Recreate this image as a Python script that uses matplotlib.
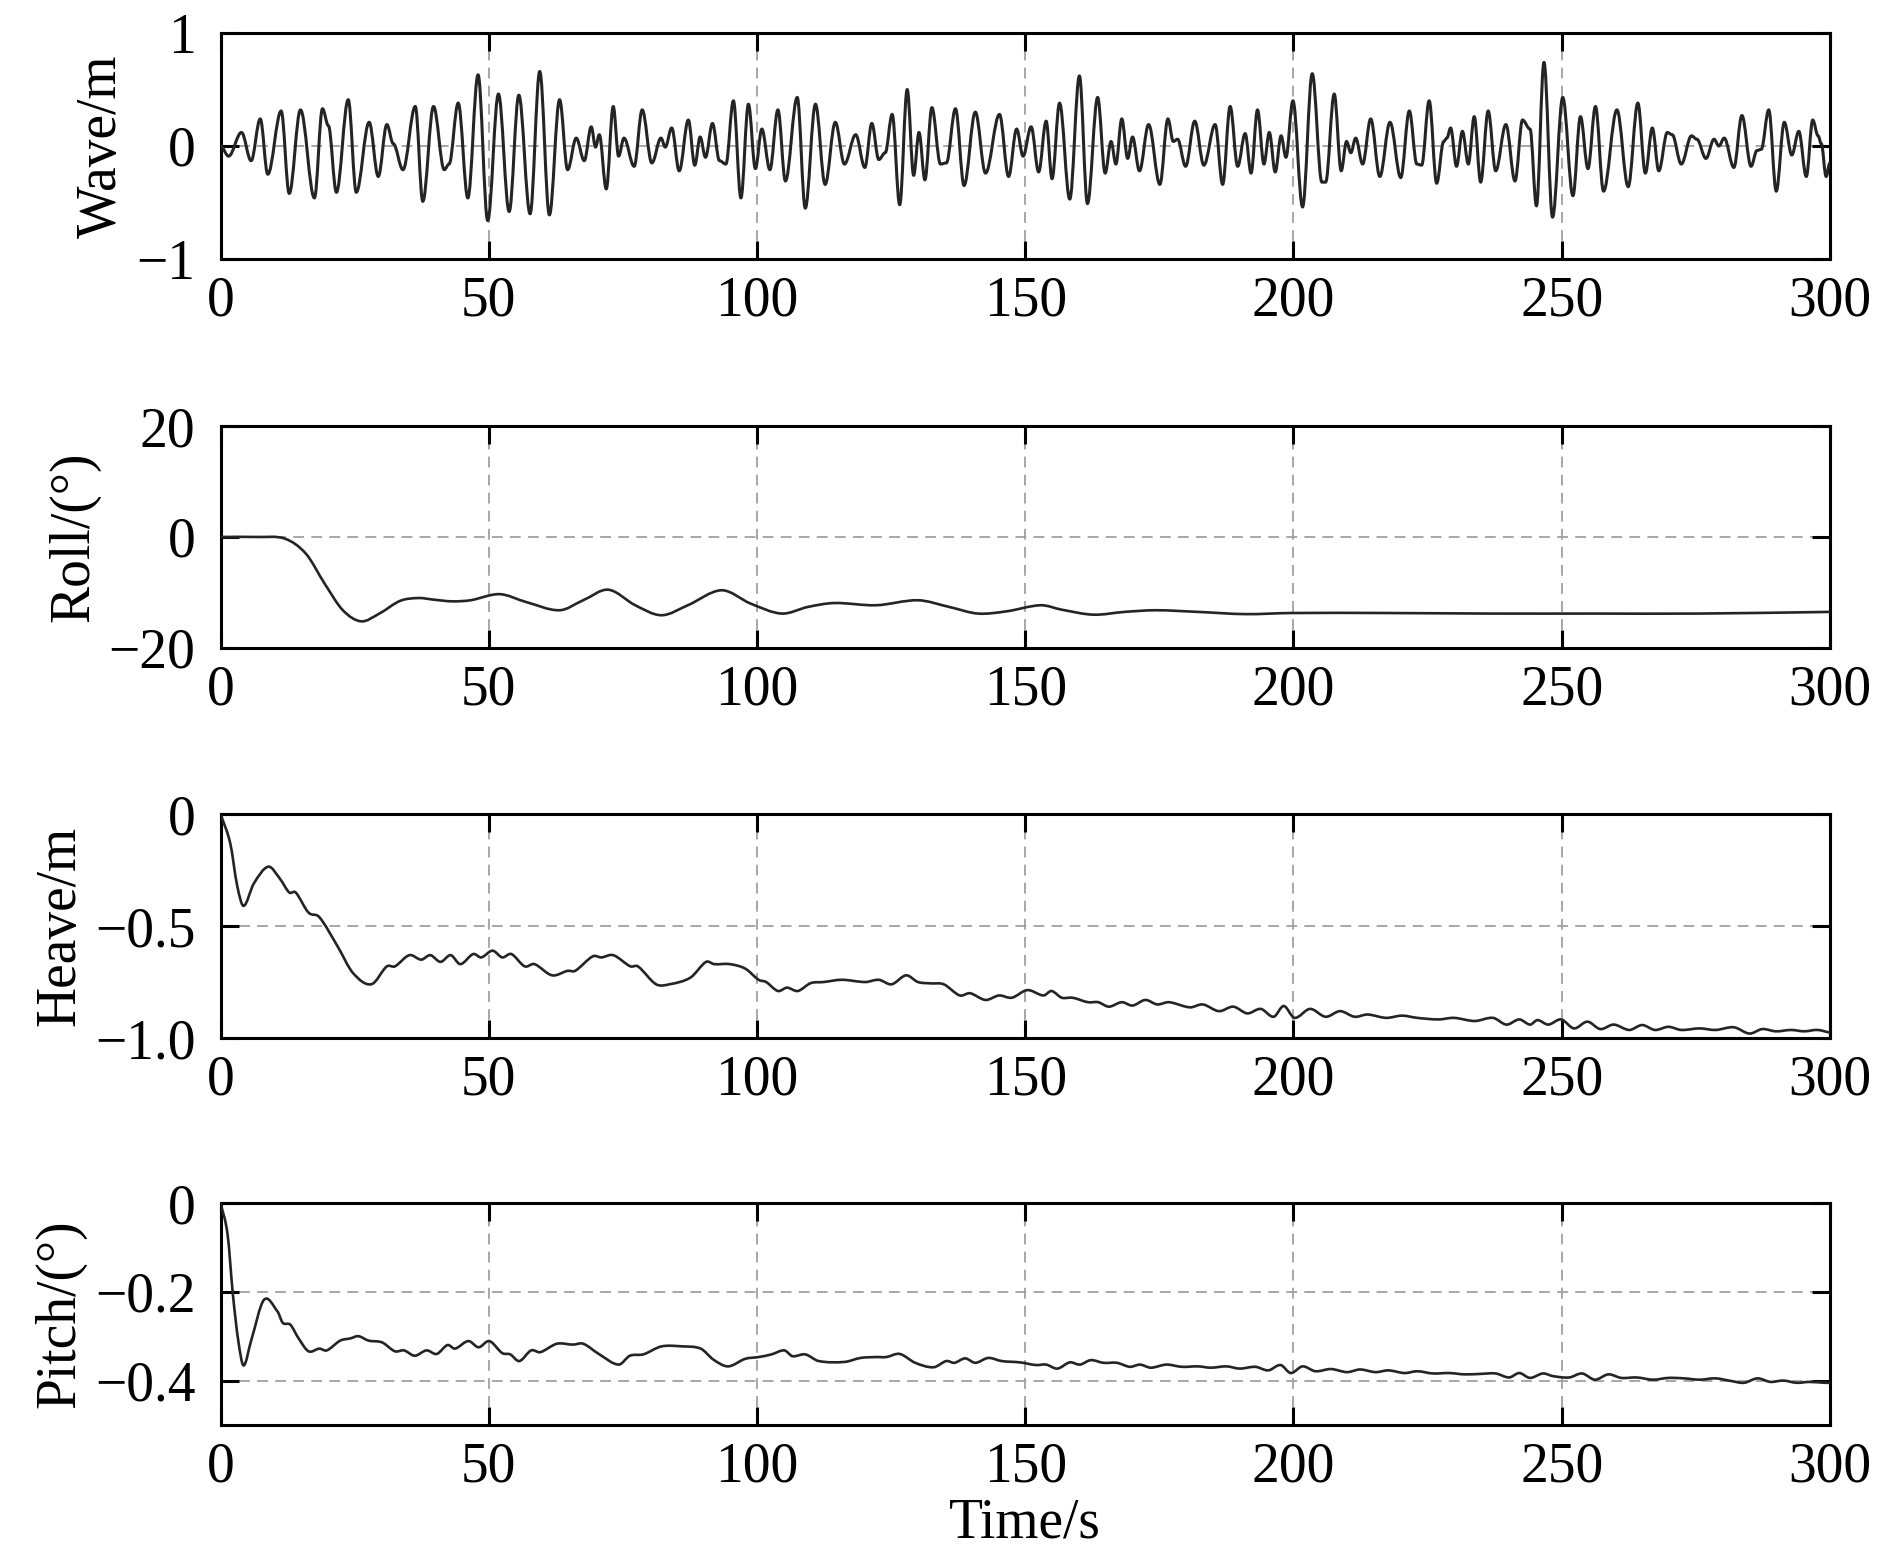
import numpy as np
import matplotlib.pyplot as plt
from matplotlib.path import Path
from matplotlib.patches import PathPatch

# wave elevation: extrema (time s, height m)
wave_t = [0, 1.5, 3.9, 5.7, 7.4, 8.8, 11.3, 12.8, 14.9, 17.5, 19.0, 20.1, 21.6, 23.8,
          25.3, 27.7, 29.4, 31.0, 32.2, 34.0, 36.3, 37.7, 39.7, 41.7, 42.6, 44.3, 46.1,
          48.0, 49.8, 51.8, 53.8, 55.6, 57.7, 59.5, 61.3, 63.2, 64.7, 66.3, 67.8, 69.1,
          69.9, 70.6, 71.9, 73.2, 74.2, 75.2, 77.1, 78.6, 80.4, 82.1, 82.9, 84.1, 85.5,
          87.2, 88.4, 89.4, 90.4, 91.7, 93.0, 94.2, 95.6, 97.0, 98.4, 99.7, 100.9, 102.4,
          103.9, 105.3, 107.5, 109.0, 110.9, 112.7, 114.6, 116.3, 118.4, 120.1, 121.4,
          122.7, 123.9, 125.2, 126.6, 128.0, 129.2, 130.2, 131.3, 132.6, 134.2, 135.3,
          137.0, 138.6, 140.7, 142.6, 145.2, 146.9, 148.4, 149.6, 151.1, 152.5, 153.9,
          155.0, 156.4, 158.3, 160.1, 161.6, 163.5, 164.9, 166.0, 166.9, 168.0, 169.1,
          170.0, 171.3, 173.0, 175.1, 176.6, 177.6, 178.4, 179.9, 181.6, 183.3, 185.4,
          186.8, 188.2, 189.6, 191.0, 192.1, 193.3, 194.5, 195.5, 196.6, 197.7, 198.6,
          199.9, 201.7, 203.5, 205.3, 206.0, 207.6, 208.9, 209.9, 210.7, 211.6, 212.9,
          214.4, 216.1, 218.0, 220.0, 221.6, 223.0, 223.9, 225.3, 226.7, 228.0, 228.6,
          229.3, 230.4, 231.5, 232.6, 233.7, 234.9, 236.3, 237.7, 239.6, 241.3, 242.7,
          244.1, 245.3, 246.7, 248.3, 250.2, 252.1, 253.5, 254.9, 256.3, 257.8, 260.3,
          262.4, 264.2, 265.6, 266.9, 268.1, 269.7, 270.6, 272.3, 274.2, 275.2, 276.9,
          278.4, 279.3, 280.3, 282.1, 283.6, 285.3, 286.4, 287.2, 288.6, 290.0, 291.5,
          292.9, 294.2, 295.6, 296.8, 297.8, 298.4, 299.3, 300.0]
wave_v = [0, -0.09, 0.12, -0.13, 0.24, -0.25, 0.31, -0.42, 0.32, -0.46, 0.33, 0.18, -0.41, 0.41,
          -0.41, 0.21, -0.27, 0.19, 0.02, -0.21, 0.35, -0.49, 0.35, -0.21, -0.16, 0.38, -0.46,
          0.63, -0.66, 0.46, -0.58, 0.45, -0.60, 0.66, -0.61, 0.41, -0.21, 0.07, -0.13, 0.17,
          -0.01, 0.10, -0.38, 0.35, -0.09, 0.07, -0.18, 0.32, -0.15, 0.07, -0.01, 0.16, -0.22,
          0.23, -0.17, 0.08, -0.10, 0.20, -0.13, -0.16, 0.40, -0.46, 0.37, -0.20, 0.15, -0.21,
          0.32, -0.31, 0.43, -0.55, 0.37, -0.34, 0.21, -0.16, 0.10, -0.19, 0.20,
          -0.12, -0.06, 0.28, -0.52, 0.50, -0.26, 0.12, -0.30, 0.34, -0.16, -0.15,
          0.33, -0.35, 0.30, -0.24, 0.28, -0.27, 0.15, -0.09, 0.17, -0.23, 0.22,
          -0.29, 0.38, -0.47, 0.62, -0.51, 0.43, -0.24, 0.04, -0.16, 0.24, -0.11,
          0.08, -0.22, 0.19, -0.34, 0.24, 0.04, 0.06, -0.18, 0.22, -0.17, 0.19,
          -0.34, 0.35, -0.18, 0.11, -0.24, 0.32, -0.16, 0.12, -0.23, 0.09, -0.10,
          0.40, -0.54, 0.64, -0.32, -0.32, 0.46, -0.22, 0.04, -0.06, 0.07, -0.16,
          0.24, -0.27, 0.21, -0.28, 0.31, -0.16, -0.17, 0.40, -0.33, 0.04, 0.07,
          0.16, -0.18, 0.13, -0.16, 0.26, -0.32, 0.31, -0.22, 0.19, -0.31, 0.23,
          0.15, -0.53, 0.74, -0.63, 0.43, -0.44, 0.26, -0.20, 0.35, -0.40, 0.32,
          -0.36, 0.38, -0.24, 0.16, -0.22, 0.12, 0.10, -0.16, 0.09, 0.06, -0.11,
          0.06, 0.00, 0.07, -0.19, 0.27, -0.18, -0.04, -0.03, 0.32, -0.40, 0.21,
          -0.08, 0.13, -0.27, 0.23, 0.09, 0.02, -0.27, -0.15]

# roll angle (deg)
roll_t = [0, 7.0, 12.0, 15.9, 19.4, 22.8, 26.2, 29.6, 33.5, 36.9, 39.8, 43.2, 46.6, 52.0, 56.9,
          63.2, 67.6, 72.3, 77.3, 82.2, 87.1, 93.4, 98.8, 104.6, 109.5, 114.4, 122.2, 130.0,
          135.8, 141.2, 146.5, 152.9, 156.8, 162.7, 168.5, 174.4, 182.2, 191.0, 199.7,
          217.3, 236.7, 256.2, 275.7, 300.0]
roll_v = [0, 0, -0.3, -3.0, -8.4, -13.2, -15.2, -13.8, -11.5, -11.0, -11.3, -11.6, -11.4, -10.3,
          -11.7, -13.2, -11.4, -9.5, -12.3, -14.1, -12.3, -9.6, -12.0, -13.8, -12.6, -11.9,
          -12.3, -11.4, -12.6, -13.8, -13.4, -12.3, -13.1, -14.0, -13.5, -13.2, -13.5, -13.9,
          -13.7, -13.7, -13.8, -13.8, -13.8, -13.5]

# heave (m)
heave_t = [0, 1.8, 3.1, 4.3, 6.2, 8.9, 11.1, 12.8, 14.0, 16.4, 18.4, 21.8, 24.7, 28.1, 31.0,
           32.5, 35.2, 37.4, 39.1, 41.0, 42.9, 44.7, 47.1, 48.6, 50.7, 52.5, 54.2, 56.7, 58.5,
           61.8, 64.7, 66.1, 69.4, 71.0, 73.2, 76.4, 77.8, 81.2, 83.7, 87.6, 90.5, 92.0, 94.9,
           97.8, 100.3, 101.7, 103.9, 105.6, 107.6, 110.0, 112.4, 115.8, 120.2, 122.7, 125.1,
           127.8, 130.0, 132.4, 134.8, 137.8, 139.7, 142.6, 145.1, 147.5, 150.4, 153.4, 154.9,
           156.8, 158.8, 161.7, 163.6, 165.6, 168.0, 170.0, 172.4, 174.6, 176.8, 180.7, 183.1,
           186.1, 188.8, 191.4, 193.9, 196.3, 198.2, 200.2, 203.1, 206.0, 208.7, 211.4, 213.8,
           217.3, 220.2, 223.1, 227.0, 229.9, 233.8, 237.2, 239.7, 242.1, 244.1, 245.5, 247.5,
           249.9, 252.3, 254.8, 257.2, 259.7, 262.6, 265.0, 267.4, 269.9, 272.3, 275.7, 278.7,
           282.1, 285.0, 287.4, 289.9, 292.8, 295.2, 297.7, 300.0]
heave_v = [0, -0.13, -0.32, -0.41, -0.31, -0.235, -0.29, -0.35, -0.35, -0.44, -0.46, -0.59,
           -0.71, -0.76, -0.68, -0.68, -0.63, -0.65, -0.63, -0.66, -0.63, -0.67, -0.625, -0.64,
           -0.61, -0.64, -0.625, -0.68, -0.67, -0.72, -0.70, -0.70, -0.635, -0.64, -0.63,
           -0.68, -0.68, -0.76, -0.76, -0.73, -0.66, -0.67, -0.67, -0.69, -0.74, -0.75, -0.79,
           -0.775, -0.79, -0.755, -0.75, -0.74, -0.75, -0.74, -0.76, -0.72, -0.75, -0.756,
           -0.76, -0.81, -0.80, -0.83, -0.81, -0.82, -0.786, -0.81, -0.79, -0.82, -0.82, -0.84,
           -0.84, -0.86, -0.84, -0.855, -0.83, -0.85, -0.84, -0.863, -0.85, -0.88, -0.86,
           -0.89, -0.87, -0.905, -0.857, -0.91, -0.87, -0.905, -0.88, -0.905, -0.895, -0.91,
           -0.90, -0.91, -0.917, -0.91, -0.924, -0.91, -0.94, -0.917, -0.94, -0.92, -0.94,
           -0.917, -0.957, -0.927, -0.96, -0.94, -0.964, -0.942, -0.964, -0.95, -0.964,
           -0.957, -0.964, -0.952, -0.98, -0.96, -0.97, -0.964, -0.97, -0.964, -0.976]

# pitch angle (deg)
pitch_t = [0, 1.3, 2.3, 3.3, 4.3, 5.7, 8.1, 10.6, 11.6, 13.0, 14.5, 16.4, 18.4, 19.8, 22.3,
           24.2, 25.7, 27.6, 30.1, 32.5, 34.2, 36.2, 38.4, 40.3, 42.3, 43.7, 46.2, 48.1, 50.1,
           52.5, 54.0, 55.7, 57.9, 59.6, 62.7, 65.7, 67.6, 70.5, 74.2, 76.3, 78.8, 82.2, 86.1,
           89.5, 91.9, 94.6, 97.8, 100.3, 102.7, 105.1, 106.6, 109.0, 111.5, 116.3, 119.3,
           122.2, 124.1, 126.6, 129.5, 132.9, 135.3, 136.8, 138.8, 140.7, 143.1, 145.6, 149.0,
           152.0, 153.9, 156.0, 158.3, 160.2, 162.2, 164.6, 167.1, 169.5, 171.4, 173.4, 176.3,
           179.2, 182.2, 184.6, 187.5, 190.0, 192.9, 195.3, 197.6, 199.5, 201.7, 204.1, 207.0,
           210.0, 212.4, 215.3, 217.7, 220.7, 223.1, 226.0, 229.0, 231.9, 234.8, 237.7, 240.2,
           242.1, 244.1, 246.5, 248.4, 251.4, 253.8, 256.2, 258.7, 261.1, 264.0, 267.0, 269.9,
           272.8, 275.7, 278.7, 281.6, 284.0, 286.5, 288.9, 291.3, 293.8, 296.2, 299.1, 300.0]
pitch_v = [0, -0.07, -0.206, -0.31, -0.366, -0.31, -0.218, -0.244, -0.27, -0.274, -0.304,
           -0.334, -0.328, -0.332, -0.31, -0.305, -0.30, -0.31, -0.314, -0.334, -0.332, -0.344,
           -0.332, -0.34, -0.32, -0.328, -0.311, -0.325, -0.311, -0.338, -0.341, -0.356,
           -0.332, -0.336, -0.317, -0.319, -0.317, -0.34, -0.364, -0.344, -0.341, -0.323,
           -0.323, -0.328, -0.353, -0.368, -0.351, -0.347, -0.341, -0.332, -0.345, -0.341,
           -0.356, -0.358, -0.349, -0.347, -0.347, -0.34, -0.36, -0.37, -0.356, -0.36, -0.35,
           -0.36, -0.349, -0.356, -0.359, -0.365, -0.364, -0.373, -0.359, -0.364, -0.354,
           -0.36, -0.36, -0.369, -0.364, -0.371, -0.364, -0.369, -0.368, -0.371, -0.368,
           -0.373, -0.369, -0.377, -0.365, -0.383, -0.368, -0.379, -0.374, -0.381, -0.375,
           -0.381, -0.377, -0.383, -0.379, -0.384, -0.383, -0.386, -0.385, -0.384, -0.393,
           -0.383, -0.394, -0.384, -0.39, -0.393, -0.384, -0.398, -0.386, -0.394, -0.393,
           -0.398, -0.394, -0.395, -0.398, -0.395, -0.401, -0.405, -0.395, -0.403, -0.40,
           -0.405, -0.403, -0.405, -0.405]

xticks = [0, 50, 100, 150, 200, 250, 300]
ylabels = ["Wave/m", "Roll/(°)", "Heave/m", "Pitch/(°)"]
ylims = [(-1, 1), (-20, 20), (-1, 0), (-0.5, 0)]
yticks = [[-1, 0, 1], [-20, 0, 20], [-1.0, -0.5, 0], [-0.4, -0.2, 0]]
yticklabels = [["\u22121", "0", "1"], ["\u221220", "0", "20"],
               ["\u22121.0", "\u22120.5", "0"], ["\u22120.4", "\u22120.2", "0"]]

plt.rcParams['font.family'] = ['Liberation Serif', 'DejaVu Serif']
plt.rcParams['font.size'] = 40

line_color = '#242424'


def flat_path(t, v, k=0.36):
    # cubic bezier through the wave extrema with flat tangents
    verts = [(t[0], v[0])]
    codes = [Path.MOVETO]
    for i in range(len(t) - 1):
        dt = t[i + 1] - t[i]
        verts += [(t[i] + k * dt, v[i]), (t[i + 1] - k * dt, v[i + 1]), (t[i + 1], v[i + 1])]
        codes += [Path.CURVE4] * 3
    return Path(verts, codes)


def cr_path(t, v):
    # catmull-rom style bezier through the read points
    t = np.asarray(t, float)
    v = np.asarray(v, float)
    n = len(t)
    verts = [(t[0], v[0])]
    codes = [Path.MOVETO]
    for i in range(n - 1):
        a = max(i - 1, 0)
        b = min(i + 2, n - 1)
        dt = t[i + 1] - t[i]
        m0 = (v[i + 1] - v[a]) / (t[i + 1] - t[a])
        m1 = (v[b] - v[i]) / (t[b] - t[i])
        verts += [(t[i] + dt / 3, v[i] + m0 * dt / 3),
                  (t[i + 1] - dt / 3, v[i + 1] - m1 * dt / 3),
                  (t[i + 1], v[i + 1])]
        codes += [Path.CURVE4] * 3
    return Path(verts, codes)


fig = plt.figure(figsize=(18.9, 15.64), dpi=100)
boxes = [[0.1167, 0.8344, 0.8515, 0.1445],
         [0.1167, 0.5857, 0.8515, 0.1419],
         [0.1167, 0.3363, 0.8515, 0.1432],
         [0.1167, 0.0889, 0.8515, 0.1419]]
axes = [fig.add_axes(b) for b in boxes]

paths = [flat_path(wave_t, wave_v), cr_path(roll_t, roll_v),
         cr_path(heave_t, heave_v), cr_path(pitch_t, pitch_v)]
widths = [2.2, 1.9, 1.9, 1.9]

for i, ax in enumerate(axes):
    ax.add_patch(PathPatch(paths[i], fill=False, edgecolor=line_color,
                           lw=widths[i], zorder=3, capstyle='round', joinstyle='round'))
    ax.set_xlim(0, 300)
    ax.set_ylim(*ylims[i])
    ax.set_xticks(xticks)
    ax.set_yticks(yticks[i])
    ax.set_yticklabels(yticklabels[i])
    ax.grid(True, color='#a0a0a0', linestyle=(0, (6, 4)), linewidth=1.3)
    ax.tick_params(direction='in', length=13, width=2.2, top=True, right=True)
    ax.tick_params(axis='x', pad=12)
    ax.tick_params(axis='y', pad=18)
    for s in ax.spines.values():
        s.set_linewidth(2.2)
    ax.set_ylabel(ylabels[i], labelpad=6)

axes[3].set_xlabel("Time/s", labelpad=3)

fig.savefig("out.png", dpi=100)
